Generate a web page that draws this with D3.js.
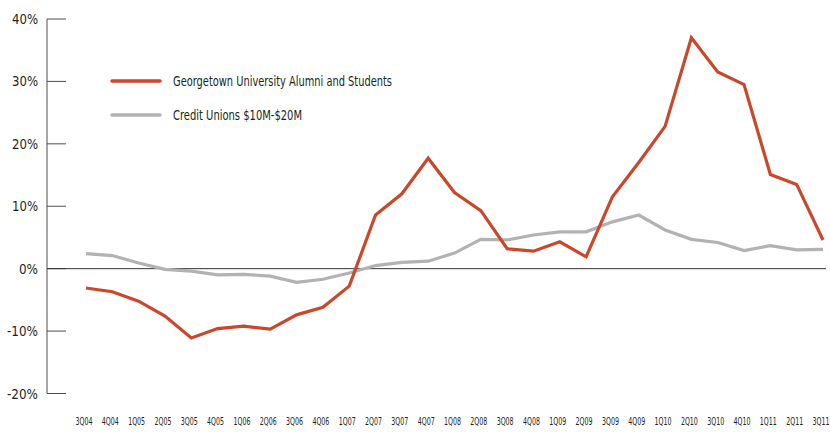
<!DOCTYPE html>
<html>
<head>
<meta charset="utf-8">
<script src="https://cdn.jsdelivr.net/npm/d3@7"></script>
<style>
  body { margin: 0; background: #fff; }
  text { font-family: "DejaVu Sans", sans-serif; font-stretch: condensed; fill: #231f20; }
</style>
</head>
<body>
<svg id="chart" width="830" height="432"></svg>
<script>
// Quarter labels
const quarters = ["3Q04","4Q04","1Q05","2Q05","3Q05","4Q05","1Q06","2Q06","3Q06","4Q06",
                  "1Q07","2Q07","3Q07","4Q07","1Q08","2Q08","3Q08","4Q08","1Q09","2Q09",
                  "3Q09","4Q09","1Q10","2Q10","3Q10","4Q10","1Q11","2Q11","3Q11"];

// Growth, percent
const georgetown = [-3.1, -3.7, -5.2, -7.6, -11.1, -9.6, -9.2, -9.7, -7.4, -6.2,
                    -2.8, 8.6, 12.0, 17.7, 12.2, 9.3, 3.2, 2.8, 4.3, 1.9,
                    11.5, 17.0, 22.8, 37.0, 31.5, 29.5, 15.1, 13.5, 4.6];
const creditUnions = [2.4, 2.1, 0.9, -0.1, -0.4, -1.0, -0.9, -1.2, -2.2, -1.7,
                      -0.7, 0.5, 1.0, 1.2, 2.5, 4.7, 4.6, 5.4, 5.9, 5.9,
                      7.5, 8.6, 6.2, 4.7, 4.2, 2.9, 3.7, 3.0, 3.1];

const yTicks = [-20, -10, 0, 10, 20, 30, 40];

const seriesList = [
    { name: "Georgetown University Alumni and Students", values: georgetown, colour: "#c9482b" },
    { name: "Credit Unions $10M-$20M", values: creditUnions, colour: "#b4b1b1" }
];

const svg = d3.select("#chart");

// Scales
const x = d3.scalePoint().domain(quarters).range([86, 823]);
const y = d3.scaleLinear().domain([-20, 40]).range([393.5, 19]);

// Squeeze text horizontally to mimic the condensed face of the original
function squeeze(sel, width) {
    sel.each(function () {
        const w = this.getComputedTextLength();
        if (w > width) d3.select(this).attr("textLength", width).attr("lengthAdjust", "spacingAndGlyphs");
    });
}

// Y axis
const yAxis = svg.append("g").attr("transform", "translate(47,0)");
yAxis.append("line")
    .attr("x1", 0).attr("x2", 0)
    .attr("y1", y(40)).attr("y2", y(-20))
    .attr("stroke", "#4d4d4d").attr("stroke-width", 1);
yAxis.selectAll(".tick")
    .data(yTicks)
    .enter()
    .append("line")
    .attr("x1", 0).attr("x2", 19)
    .attr("y1", (d) => y(d)).attr("y2", (d) => y(d))
    .attr("stroke", "#4d4d4d").attr("stroke-width", 1);
yAxis.selectAll(".label")
    .data(yTicks)
    .enter()
    .append("text")
    .attr("x", -9)
    .attr("y", (d) => y(d) + 5)
    .attr("text-anchor", "end")
    .style("font-size", "14px")
    .text((d) => `${d}%`)
    .each(function (d) {
        squeeze(d3.select(this), d < 0 ? 31 : (Math.abs(d) >= 10 ? 26 : 19));
    });

// Zero line
svg.append("line")
    .attr("x1", 47).attr("x2", 826)
    .attr("y1", y(0)).attr("y2", y(0))
    .attr("stroke", "#333").attr("stroke-width", 1);

// X labels
svg.append("g")
    .selectAll("text")
    .data(quarters)
    .enter()
    .append("text")
    .attr("x", (d) => x(d) - 2)
    .attr("y", 425)
    .attr("text-anchor", "middle")
    .style("font-size", "11px")
    .text((d) => d)
    .call(squeeze, 17);

// Lines (gray drawn first so red sits on top)
const line = d3.line()
    .x((d, i) => x(quarters[i]))
    .y((d) => y(d));

svg.selectAll(".series")
    .data(seriesList.slice().reverse())
    .enter()
    .append("path")
    .attr("d", (d) => line(d.values))
    .attr("fill", "none")
    .attr("stroke", (d) => d.colour)
    .attr("stroke-width", 3.2)
    .attr("stroke-linejoin", "miter");

// Legend
const legend = svg.append("g");
seriesList.forEach((s, i) => {
    const ly = 81 + i * 34;
    legend.append("line")
        .attr("x1", 112).attr("x2", 160)
        .attr("y1", ly).attr("y2", ly)
        .attr("stroke", s.colour)
        .attr("stroke-width", 3.5)
        .attr("stroke-linecap", "round");
    legend.append("text")
        .attr("x", 173)
        .attr("y", ly + 5)
        .style("font-size", "13.5px")
        .text(s.name)
        .call(squeeze, i === 0 ? 219 : 129);
});
</script>
</body>
</html>
